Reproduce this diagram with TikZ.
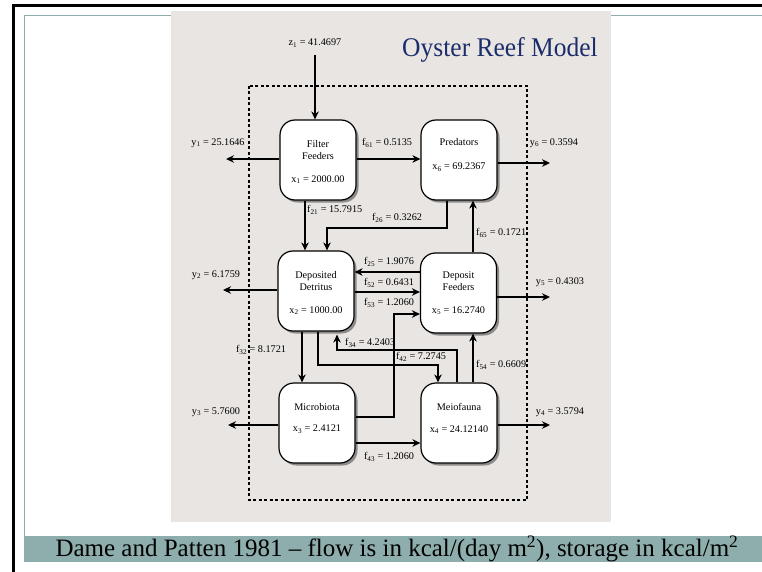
\documentclass[tikz,border=0pt]{standalone}
\usepackage{fontspec}
\setmainfont{Liberation Serif}
\newfontfamily\titlefont[FakeStretch=0.945]{Liberation Serif}
\usetikzlibrary{arrows.meta,shadows,calc}
\definecolor{panelgray}{HTML}{E8E5E2}
\definecolor{bandteal}{HTML}{8DAEAD}
\definecolor{titlenavy}{HTML}{1C2D6B}
\newcommand{\lsub}[1]{\textsubscript{#1}}
\tikzset{
  compartment/.style={draw=black, line width=1.2pt, fill=white, rounded corners=15pt,
    minimum width=76pt, minimum height=80pt, inner sep=0pt,
    drop shadow={shadow xshift=2.5pt, shadow yshift=-2.5pt, fill=black!60, opacity=0.7}},
  flow/.style={line width=1.8pt, -{Stealth[length=8pt,width=7.5pt]}},
  thinflow/.style={line width=1.3pt, -{Stealth[length=8pt,width=7.5pt]}},
  lbl/.style={font=\fontsize{10.2}{12}\selectfont, inner sep=0pt},
  boxtext/.style={font=\fontsize{10.2}{12}\selectfont, inner sep=0pt},
}
\begin{document}
\begin{tikzpicture}[x=1pt, y=-1pt]
\useasboundingbox (0,0) rectangle (762,572);
% page frame
\fill[white] (0,0) rectangle (762,572);
\draw[black, line width=3pt] (13.5,572) -- (13.5,5.5) -- (762,5.5);
\draw[bandteal, line width=1pt] (24,536) -- (24,16) -- (762,16);
\fill[bandteal] (24,536) rectangle (762,562);
\node[font=\fontsize{25}{28}\selectfont, inner sep=0pt] (caption) at (397,549)
  {Dame and Patten 1981 -- flow is in kcal/(day m\textsuperscript{2}), storage in kcal/m\textsuperscript{2}};
% diagram panel
\fill[panelgray] (171,11) rectangle (611,522);
\node[font=\titlefont\fontsize{27}{30}\selectfont, text=titlenavy, inner sep=0pt] (title) at (500,50) {Oyster Reef Model};
\draw[line width=1.5pt, dash pattern=on 3pt off 2.5pt] (249,86) rectangle (527,500);

% compartments
\node[compartment] (ff) at (318,160) {};
\node[compartment] (pr) at (459,160) {};
\node[compartment] (dd) at (316,291) {};
\node[compartment] (df) at (458.5,293) {};
\node[compartment] (mb) at (317,423) {};
\node[compartment] (mf) at (459,423) {};

\node[boxtext] (ffa) at ($(ff.north)+(0,25)$) {Filter};
\node[boxtext] (ffb) at ($(ff.north)+(0,37)$) {Feeders};
\node[boxtext] (ffc) at ($(ff.north)+(0,60)$) {x\lsub{1} = 2000.00};
\node[boxtext] (pra) at ($(pr.north)+(0,23)$) {Predators};
\node[boxtext] (prb) at ($(pr.north)+(0,48)$) {x\lsub{6} = 69.2367};
\node[boxtext] (dda) at ($(dd.north)+(0,26)$) {Deposited};
\node[boxtext] (ddb) at ($(dd.north)+(0,37)$) {Detritus};
\node[boxtext] (ddc) at ($(dd.north)+(0,60)$) {x\lsub{2} = 1000.00};
\node[boxtext] (dfa) at ($(df.north)+(0,24)$) {Deposit};
\node[boxtext] (dfb) at ($(df.north)+(0,35)$) {Feeders};
\node[boxtext] (dfc) at ($(df.north)+(0,58)$) {x\lsub{5} = 16.2740};
\node[boxtext] (mba) at ($(mb.north)+(0,25)$) {Microbiota};
\node[boxtext] (mbb) at ($(mb.north)+(0,47)$) {x\lsub{3} = 2.4121};
\node[boxtext] (mfa) at ($(mf.north)+(0,25)$) {Meiofauna};
\node[boxtext] (mfb) at ($(mf.north)+(0,47)$) {x\lsub{4} = 24.12140};

% input
\node[lbl] (z1) at (315,43) {z\lsub{1} = 41.4697};
\coordinate (z1start) at (315,55);
\draw[flow] (z1start) -- (ff.north -| z1start);

% outputs
\coordinate (y1end) at (226,159);
\coordinate (y6end) at (550,163);
\coordinate (y2end) at (223,290);
\coordinate (y5end) at (550,297);
\coordinate (y3end) at (228,425);
\coordinate (y4end) at (550,425);
\draw[flow] (ff.west |- y1end) -- (y1end);
\draw[flow] (pr.east |- y6end) -- (y6end);
\draw[flow] (dd.west |- y2end) -- (y2end);
\draw[flow] (df.east |- y5end) -- (y5end);
\draw[flow] (mb.west |- y3end) -- (y3end);
\draw[flow] (mf.east |- y4end) -- (y4end);
\node[lbl] (y1) at (218,143) {y\lsub{1} = 25.1646};
\node[lbl] (y6) at (554,143) {y\lsub{6} = 0.3594};
\node[lbl] (y2) at (216,275) {y\lsub{2} = 6.1759};
\node[lbl] (y5) at (560,282) {y\lsub{5} = 0.4303};
\node[lbl] (y3) at (216,412) {y\lsub{3} = 5.7600};
\node[lbl] (y4) at (560,412) {y\lsub{4} = 3.5794};

% internal flows
\coordinate (f61y) at (0,159);
\draw[flow] (ff.east |- f61y) -- (pr.west |- f61y);
\node[lbl] (f61) at (387,143) {f\lsub{61} = 0.5135};

\coordinate (f21x) at (305,0);
\draw[flow] (ff.south -| f21x) -- (dd.north -| f21x);
\node[lbl, anchor=west] (f21) at (307,210) {f\lsub{21} = 15.7915};

\coordinate (f26a) at (447,228);
\coordinate (f26b) at (327,228);
\draw[flow] (pr.south -| f26a) -- (f26a) -- (f26b) -- (dd.north -| f26b);
\node[lbl] (f26) at (397,218) {f\lsub{26} = 0.3262};

\coordinate (f65x) at (473,0);
\draw[flow] (df.north -| f65x) -- (pr.south -| f65x);
\node[lbl, anchor=west] (f65) at (476,233) {f\lsub{65} = 0.1721};

\coordinate (f25y) at (0,272);
\draw[flow] (df.west |- f25y) -- (dd.east |- f25y);
\node[lbl] (f25) at (389,262) {f\lsub{25} = 1.9076};

\coordinate (f52y) at (0,292);
\draw[flow] (dd.east |- f52y) -- (df.west |- f52y);
\node[lbl] (f52) at (389,283) {f\lsub{52} = 0.6431};

\coordinate (f53a) at (394,417);
\coordinate (f53b) at (394,314);
\draw[thinflow] (mb.east |- f53a) -- (f53a) -- (f53b) -- (df.west |- f53b);
\node[lbl] (f53) at (389,303) {f\lsub{53} = 1.2060};

\coordinate (f34a) at (457,350);
\coordinate (f34b) at (337,350);
\draw[thinflow] (mf.north -| f34a) -- (f34a) -- (f34b) -- ($(dd.south -| f34b)+(0,3)$);
\node[lbl, anchor=west] (f34) at (345,343) {f\lsub{34} = 4.2403};

\coordinate (f42a) at (318,365);
\coordinate (f42b) at (438,365);
\draw[thinflow] (dd.south -| f42a) -- (f42a) -- (f42b) -- (mf.north -| f42b);
\node[lbl] (f42) at (421,357) {f\lsub{42} = 7.2745};

\coordinate (f32x) at (302,0);
\draw[flow] (dd.south -| f32x) -- (mb.north -| f32x);
\node[lbl] (f32) at (261,350) {f\lsub{32} = 8.1721};

\coordinate (f54x) at (473,0);
\draw[flow] (mf.north -| f54x) -- (df.south -| f54x);
\node[lbl, anchor=west] (f54) at (476,365) {f\lsub{54} = 0.6609};

\coordinate (f43y) at (0,443);
\draw[flow] (mb.east |- f43y) -- (mf.west |- f43y);
\node[lbl] (f43) at (389,457) {f\lsub{43} = 1.2060};
\end{tikzpicture}
\end{document}
